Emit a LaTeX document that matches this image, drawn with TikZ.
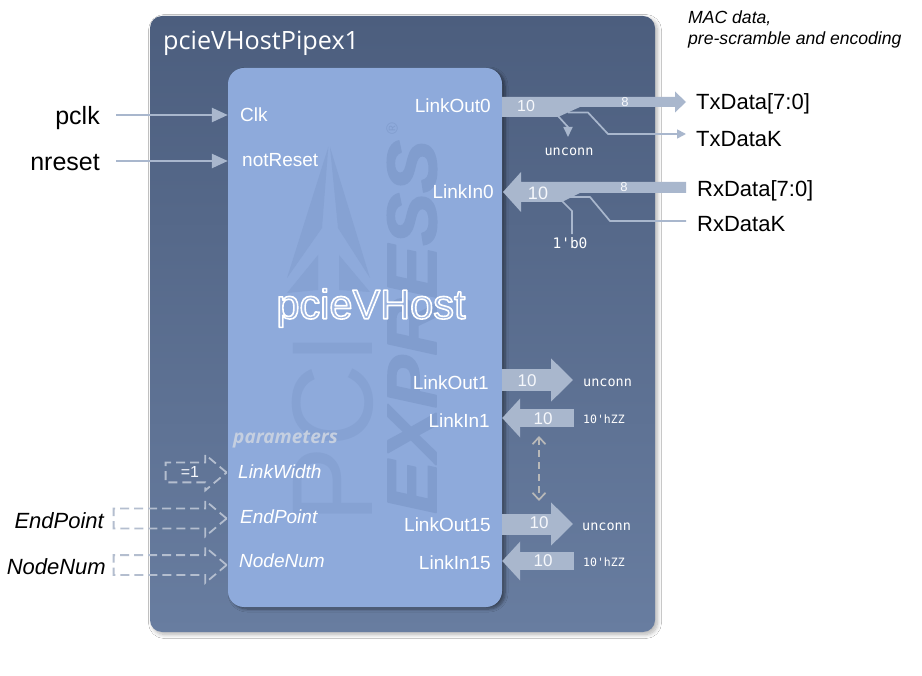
\documentclass[tikz,border=0pt]{standalone}
\usepackage{fontspec}
\setmainfont{Liberation Sans}
\newfontfamily\titlefont{Open Sans}
\newfontfamily\codefont{DejaVu Sans Mono}
\usetikzlibrary{arrows.meta, shadows.blur, shapes.arrows}

\definecolor{boxblue}{HTML}{8EAADB}
\definecolor{markblue}{HTML}{86A2D3}
\definecolor{expressblue}{HTML}{819DCE}
\definecolor{busgrey}{HTML}{A9B7CD}
\definecolor{dashgrey}{HTML}{B4BECF}
\definecolor{hostdark}{HTML}{4C5E7E}
\definecolor{hostlight}{HTML}{687DA0}
\newcommand{\fsize}[1]{\fontsize{#1}{#1}\selectfont}
\newcommand{\stroked}[3]{\special{pdf:code q 2 Tr 1 j 1 J #2 w #1 RG}#3\special{pdf:code Q}}

\tikzset{
	hostbox/.style={rounded corners=12pt, top color=hostdark, bottom color=hostlight, inner sep=0pt, blur shadow={shadow xshift=2.5pt, shadow yshift=-2.5pt, shadow blur steps=10, shadow blur radius=4pt, shadow opacity=30}},
	corebox/.style={rounded corners=16pt, fill=boxblue, inner sep=0pt, blur shadow={shadow xshift=3pt, shadow yshift=-2pt, shadow blur steps=6, shadow blur radius=3pt, shadow opacity=45}},
	pinlabel/.style={inner sep=0pt, yshift=-4pt, text=white, font=\fsize{19}},
	paramlabel/.style={inner sep=0pt, yshift=-4pt, text=white, font=\fsize{19}\itshape},
	extlabel/.style={inner sep=0pt, yshift=-6pt, text=black, font=\fsize{22}},
	wirelabel/.style={inner sep=0pt, text height=22pt, text depth=3pt, text=black, font=\fsize{25}},
	codelabel/.style={inner sep=0pt, text=white, font=\fsize{13.5}\codefont},
	widthlabel/.style={inner sep=0pt, text=white!92!boxblue, font=\fsize{17}},
	wirearrow/.style={draw=busgrey, line width=2.5pt, -{Triangle[width=14pt,length=16pt]}},
	thinwire/.style={draw=busgrey, line width=1.7pt},
	busout/.style={draw=busgrey, line width=#1, -{Triangle[width=42pt,length=22pt]}},
	busin/.style={draw=busgrey, line width=#1, {Triangle[width=38pt,length=18pt]}-},
	parambus/.style={single arrow, anchor=tip, draw=dashgrey, dashed, dash pattern=on 9pt off 5pt, line width=1.8pt, inner xsep=0pt, inner ysep=9pt, single arrow tip angle=80, single arrow head extend=8pt},
	markfont/.style={inner sep=0pt, rotate=90}
}

\begin{document}
\begin{tikzpicture}[x=1pt, y=-1pt]
	\useasboundingbox[fill=white] (0,0) rectangle (922,676);

	% the two boxes
	\node[hostbox, minimum width=505pt, minimum height=616pt] (hostPipe) at (402.5,324) {};
	\node[corebox, minimum width=274pt, minimum height=539pt] (coreBox) at (365,337.5) {};
	\node[anchor=mid west, inner sep=0pt, text=white, font=\fsize{25.2}\titlefont] (hostName) at (163,47) {pcieVHostPipex1};
	\node[anchor=base west, inner sep=0pt, font=\fsize{17.6}\itshape] (macNote) at (688,24) {MAC data,};
	\node[anchor=base west, inner sep=0pt, font=\fsize{17.6}\itshape] (scrambleNote) at (688,45) {pre-scramble and encoding};

	% PCI Express mark behind the text
	\fill[markblue] (328.3,147) -- (322,228) -- (287,278) -- cycle;
	\fill[markblue] (330,147) -- (338,228) -- (370,278) -- cycle;
	\fill[markblue] (318,255) -- (287,293) -- (318,290) -- cycle;
	\fill[markblue] (339,255) -- (370,292) -- (339,290) -- cycle;
	\node[markfont, text=markblue, font=\fsize{115}] (markPci) at (333,428) {PCI};
	\node[markfont, text=expressblue, font=\fsize{70}\bfseries\itshape] (markExpress) at (412,327) {\scalebox{1.13}[1]{\stroked{0.506 0.616 0.808}{1.5}{EXPRESS}}};
	\node[markfont, text=expressblue, font=\fsize{16}] (markReg) at (392,129) {®};

	\node[inner sep=0pt, font=\fsize{41.5}] (coreName) at (371,308) {\textcolor{boxblue!88!white}{\stroked{1 1 1}{1.6}{pcieVHost}}};
	\node[inner sep=0pt, yshift=-4pt, text=white!60!boxblue!85!gray, font=\fsize{19}\titlefont\bfseries\itshape, anchor=mid west] (paramHead) at (233,437) {parameters};

	% pins of the core
	\node[pinlabel, anchor=mid west] (pinClk) at (240,115) {Clk};
	\node[pinlabel, anchor=mid west] (pinReset) at (242,160) {notReset};
	\node[pinlabel, anchor=mid east] (pinOut0) at (491,106) {LinkOut0};
	\node[pinlabel, anchor=mid east] (pinIn0) at (494,192) {LinkIn0};
	\node[pinlabel, anchor=mid east] (pinOut1) at (489,383) {LinkOut1};
	\node[pinlabel, anchor=mid east] (pinIn1) at (490,421) {LinkIn1};
	\node[pinlabel, anchor=mid east] (pinOut15) at (491,525) {LinkOut15};
	\node[pinlabel, anchor=mid east] (pinIn15) at (491,563) {LinkIn15};
	\node[paramlabel, anchor=mid west] (pinWidth) at (238,472) {LinkWidth};
	\node[paramlabel, anchor=mid west] (pinEnd) at (240,517) {EndPoint};
	\node[paramlabel, anchor=mid west] (pinNode) at (239,561) {NodeNum};

	% outside signals
	\node[wirelabel, anchor=east] (pclk) at (100,115) {pclk};
	\node[wirelabel, anchor=east] (nreset) at (100,161) {nreset};
	\node[extlabel, anchor=mid west] (txData) at (696,101) {TxData[7:0]};
	\node[extlabel, anchor=mid west] (txDataK) at (696,138) {TxDataK};
	\node[extlabel, anchor=mid west] (rxData) at (697,188) {RxData[7:0]};
	\node[extlabel, anchor=mid west] (rxDataK) at (697,223) {RxDataK};
	\node[extlabel, font=\fsize{22}\itshape, anchor=mid east] (endPoint) at (104,520) {EndPoint};
	\node[extlabel, font=\fsize{22}\itshape, anchor=mid east] (nodeNum) at (106,566) {NodeNum};

	% clock and reset
	\draw[wirearrow, shorten <=16pt] (pclk.east) -- (pclk -| coreBox.west);
	\draw[wirearrow, shorten <=16pt] (nreset.east) -- (nreset -| coreBox.west);

	% parameters
	\node[parambus, minimum height=61pt] (busWidth) at (228,472.5) {};
	\node[parambus, minimum height=113pt] (busEnd) at (228,518.5) {};
	\node[parambus, minimum height=113pt] (busNode) at (228,565) {};
	\node[widthlabel, font=\fsize{16}] (valWidth) at (190,472) {=1};

	% lane 0
	\coordinate (txSplit) at (568,112.5);
	\coordinate (rxSplit) at (570,197);
	\coordinate (txDrop) at (558,116);
	\coordinate (rxDrop) at (562,201);
	\coordinate (txKTip) at (686,134);
	\coordinate (txDropTip) at (568,137);
	\coordinate (rxKEnd) at (686,221);
	\fill[busgrey] (502,97) -- (675,97) -- (675,91.5) -- (686,102) -- (675,112.5) -- (675,107) -- (580,107) -- (558,117) -- (502,117) -- cycle;
	\fill[busgrey] (686,182) -- (521,182) -- (521,172) -- (503,192) -- (521,212) -- (521,202) -- (562,202) -- (580,193) -- (686,193) -- cycle;
	\draw[thinwire, -{Triangle[width=9pt,length=9pt]}] (txSplit) -- (588,112.5) -- (608,134) -- (txKTip);
	\draw[thinwire] (rxSplit) -- (590,197) -- (610,221) -- (rxKEnd);
	\node[codelabel] (unconnTx) at (569,152) {unconn};
	\node[codelabel, font=\fsize{14.5}\codefont] (zeroBit) at (570,243) {1'b0};
	\draw[thinwire, -{Triangle[width=9pt,length=10pt]}] (txDrop) -- (568,127) -- (txDropTip);
	\draw[thinwire, shorten >=3pt] (rxDrop) -- (572,211) -- (zeroBit.north -| 572,0);
	\node[widthlabel, font=\fsize{16}] (widthTx) at (526,106) {10};
	\node[widthlabel, font=\fsize{18}] (widthRx) at (538,193) {10};
	\node[widthlabel, font=\fsize{13}] (narrowTx) at (625,102) {8};
	\node[widthlabel, font=\fsize{13}] (narrowRx) at (624,187) {8};

	% lanes 1 and 15
	\node[codelabel, yshift=-3pt, anchor=mid west] (unconn1) at (583,381) {unconn};
	\node[codelabel, yshift=-3pt, font=\fsize{11.5}\codefont, anchor=mid west] (hiZ1) at (583,418) {10'hZZ};
	\node[codelabel, yshift=-3pt, anchor=mid west] (unconn15) at (582,525) {unconn};
	\node[codelabel, yshift=-3pt, font=\fsize{11.5}\codefont, anchor=mid west] (hiZ15) at (583,561) {10'hZZ};
	\coordinate (out1Tip) at (573,380);
	\coordinate (in1End) at (574,418);
	\coordinate (out15Tip) at (573,524);
	\coordinate (in15End) at (574,561);
	\coordinate (laneTop) at (539,436);
	\coordinate (laneBottom) at (539,501);
	\draw[busout=22pt] (coreBox.east |- out1Tip) -- (out1Tip);
	\draw[busin=18pt] (coreBox.east |- in1End) -- (in1End);
	\draw[busout=21pt] (coreBox.east |- out15Tip) -- (out15Tip);
	\draw[busin=18pt] (coreBox.east |- in15End) -- (in15End);
	\draw[draw=black!28, dashed, dash pattern=on 7pt off 5pt, line width=1.7pt, {Straight Barb[width=13pt,length=7pt]}-{Straight Barb[width=13pt,length=7pt]}] (laneTop) -- (laneBottom);
	\node[widthlabel] (width1Out) at (527,381) {10};
	\node[widthlabel] (width1In) at (543,419) {10};
	\node[widthlabel] (width15Out) at (539,523) {10};
	\node[widthlabel] (width15In) at (543,561) {10};
\end{tikzpicture}
\end{document}
